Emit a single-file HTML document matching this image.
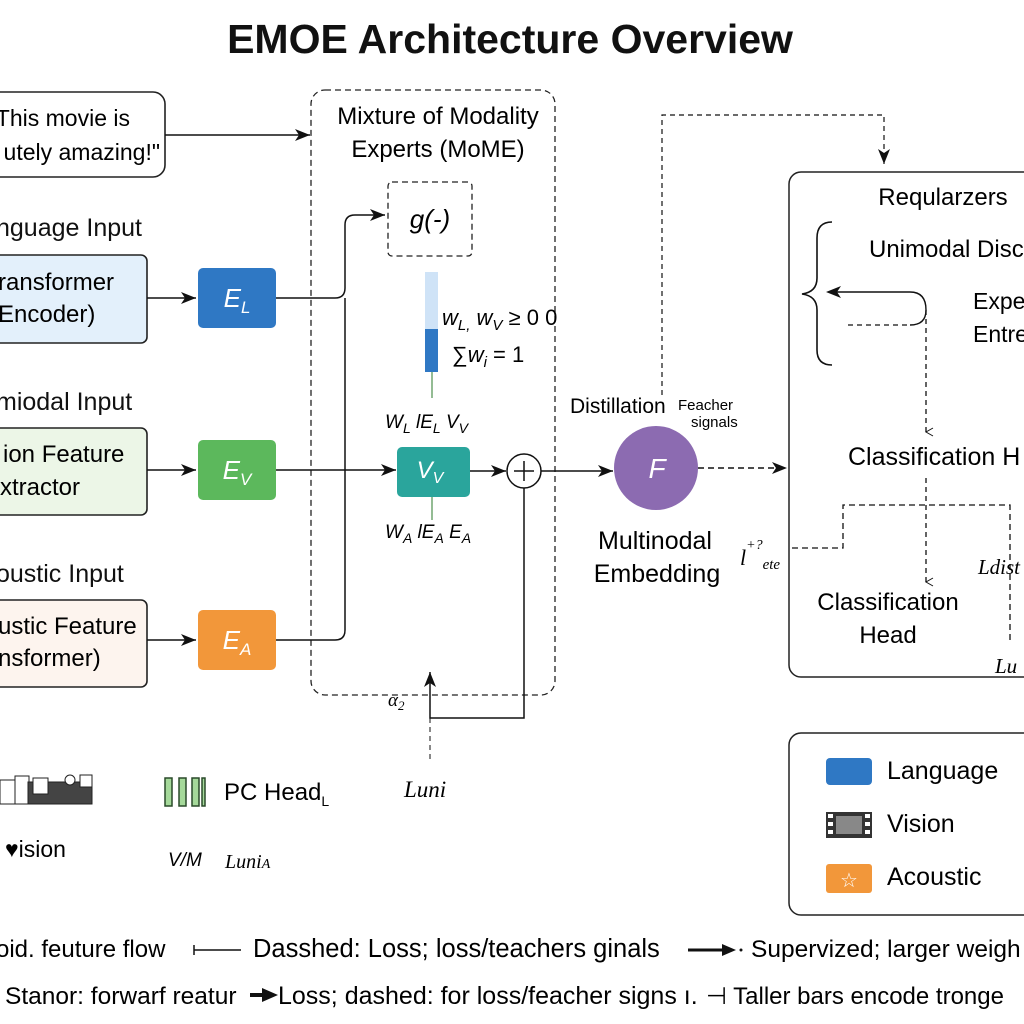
<!DOCTYPE html>
<html><head><meta charset="utf-8"><style>
html,body{margin:0;padding:0;background:#fff;}
svg{display:block;font-family:"Liberation Sans",sans-serif;}
.s{font-family:"Liberation Serif",serif;font-style:italic;}
</style></head><body>
<svg width="1024" height="1024" viewBox="0 0 1024 1024" xmlns="http://www.w3.org/2000/svg">
<defs>
<marker id="a" markerWidth="16" markerHeight="14" refX="15" refY="7" orient="auto" markerUnits="userSpaceOnUse"><path d="M0,1 L15,7 L0,13 L4,7 z" fill="#111"/></marker>
<marker id="o" markerWidth="10" markerHeight="10" refX="5" refY="9" orient="auto" markerUnits="userSpaceOnUse"><path d="M1,2 L5,9 L9,2" fill="none" stroke="#111"/></marker>
</defs>
<text x="510" y="53" text-anchor="middle" font-size="41" font-weight="bold" fill="#111">EMOE Architecture Overview</text>

<!-- quote -->
<rect x="-12" y="92" width="177" height="85" rx="12" fill="#fff" stroke="#222" stroke-width="1.6"/>
<text x="130" y="126" text-anchor="end" font-size="23">This movie is</text>
<text x="160" y="160" text-anchor="end" font-size="23">utely amazing!"</text>
<line x1="165" y1="135" x2="310" y2="135" stroke="#111" stroke-width="1.5" marker-end="url(#a)"/>

<!-- inputs -->
<g font-size="25" fill="#111">
<text x="-4" y="236">nguage Input</text>
<text x="-4" y="410">miodal Input</text>
<text x="-4" y="582">oustic Input</text>
</g>
<rect x="-12" y="255" width="159" height="88" rx="6" fill="#e3f0fb" stroke="#222" stroke-width="1.6"/>
<text x="-2" y="290" font-size="24">ransformer</text><text x="-2" y="322" font-size="24">Encoder)</text>
<rect x="-12" y="428" width="159" height="87" rx="6" fill="#ecf6e7" stroke="#222" stroke-width="1.6"/>
<text x="3" y="462" font-size="24">ion Feature</text><text x="0" y="495" font-size="24">xtractor</text>
<rect x="-12" y="600" width="159" height="87" rx="6" fill="#fdf4ee" stroke="#222" stroke-width="1.6"/>
<text x="-2" y="634" font-size="24">ustic Feature</text><text x="-2" y="666" font-size="24">nsformer)</text>

<g stroke="#111" stroke-width="1.5" fill="none">
<line x1="147" y1="298" x2="196" y2="298" marker-end="url(#a)"/>
<line x1="147" y1="470" x2="196" y2="470" marker-end="url(#a)"/>
<line x1="147" y1="640" x2="196" y2="640" marker-end="url(#a)"/>
</g>
<rect x="198" y="268" width="78" height="60" rx="5" fill="#2f78c4"/>
<text x="237" y="307" text-anchor="middle" font-size="26" fill="#fff" font-style="italic">E<tspan font-size="17" dy="6">L</tspan></text>
<rect x="198" y="440" width="78" height="60" rx="5" fill="#5cb85c"/>
<text x="237" y="479" text-anchor="middle" font-size="26" fill="#fff" font-style="italic">E<tspan font-size="17" dy="6">V</tspan></text>
<rect x="198" y="610" width="78" height="60" rx="5" fill="#f2973a"/>
<text x="237" y="649" text-anchor="middle" font-size="26" fill="#fff" font-style="italic">E<tspan font-size="17" dy="6">A</tspan></text>

<!-- MoME -->
<rect x="311" y="90" width="244" height="605" rx="14" fill="none" stroke="#222" stroke-width="1.3" stroke-dasharray="6,4"/>
<text x="438" y="124" text-anchor="middle" font-size="24">Mixture of Modality</text>
<text x="438" y="157" text-anchor="middle" font-size="24">Experts (MoME)</text>
<rect x="388" y="182" width="84" height="74" rx="4" fill="none" stroke="#222" stroke-width="1.3" stroke-dasharray="6,4"/>
<text x="430" y="228" text-anchor="middle" font-size="26" font-style="italic">g(-)</text>

<g stroke="#111" stroke-width="1.5" fill="none">
<path d="M276,298 H335 Q345,298 345,288 V225 Q345,215 355,215 H385" marker-end="url(#a)"/>
<path d="M345,298 V630 Q345,640 335,640 H276"/>
<path d="M276,470 H396" marker-end="url(#a)"/>
<line x1="470" y1="471" x2="506" y2="471" marker-end="url(#a)"/>
<line x1="541" y1="471" x2="613" y2="471" marker-end="url(#a)"/>
<path d="M524,488 V718 H430 V672" marker-end="url(#a)"/>
</g>
<circle cx="524" cy="471" r="17" fill="#fff" stroke="#111" stroke-width="1.5"/>
<path d="M524,461 V481 M514,471 H534" stroke="#111" stroke-width="1.5"/>

<rect x="425" y="272" width="13" height="57" fill="#cfe3f7"/>
<rect x="425" y="329" width="13" height="43" fill="#2f78c4"/>
<line x1="432" y1="372" x2="432" y2="398" stroke="#2a7a2a"/>
<line x1="432" y1="497" x2="432" y2="520" stroke="#2a7a2a"/>
<text x="442" y="325" font-size="22" font-style="italic">w<tspan font-size="15" dy="5">L,</tspan><tspan dy="-5"> w</tspan><tspan font-size="15" dy="5">V</tspan><tspan dy="-5" font-style="normal"> ≥ 0  0</tspan></text>
<text x="452" y="362" font-size="22">∑<tspan font-style="italic">w<tspan font-size="15" dy="5">i</tspan></tspan><tspan dy="-5"> = 1</tspan></text>
<text x="385" y="428" font-size="19" font-style="italic">W<tspan font-size="14" dy="5">L</tspan><tspan dy="-5"> lE</tspan><tspan font-size="14" dy="5">L</tspan><tspan dy="-5">  V</tspan><tspan font-size="14" dy="5">V</tspan></text>
<rect x="397" y="447" width="73" height="50" rx="5" fill="#2aa59c"/>
<text x="430" y="478" text-anchor="middle" font-size="24" fill="#fff" font-style="italic">V<tspan font-size="16" dy="5">V</tspan></text>
<text x="385" y="538" font-size="19" font-style="italic">W<tspan font-size="14" dy="5">A</tspan><tspan dy="-5"> lE</tspan><tspan font-size="14" dy="5">A</tspan><tspan dy="-5"> E</tspan><tspan font-size="14" dy="5">A</tspan></text>
<text x="388" y="706" font-size="19" class="s">α<tspan font-size="13" dy="4">2</tspan></text>
<line x1="430" y1="718" x2="430" y2="762" stroke="#111" stroke-dasharray="5,4"/>
<text x="404" y="797" font-size="23" class="s">Luni</text>

<!-- F -->
<path d="M662,395 V115 H884 V164" fill="none" stroke="#111" stroke-width="1.2" stroke-dasharray="5,4" marker-end="url(#a)"/>
<text x="570" y="413" font-size="21">Distillation</text>
<text x="678" y="410" font-size="15">Feacher</text>
<text x="691" y="427" font-size="15">signals</text>
<circle cx="656" cy="468" r="42" fill="#8c6bb1"/>
<text x="657" y="478" text-anchor="middle" font-size="28" fill="#fff" font-style="italic">F</text>
<line x1="698" y1="468" x2="787" y2="468" stroke="#111" stroke-width="1.4" stroke-dasharray="6,4" marker-end="url(#a)"/>
<text x="655" y="549" text-anchor="middle" font-size="25">Multinodal</text>
<text x="657" y="582" text-anchor="middle" font-size="25">Embedding</text>
<text x="740" y="565" font-size="22" class="s">l<tspan font-size="14" dy="-16">+?</tspan><tspan font-size="15" dy="20">ete</tspan></text>

<!-- Regularizers -->
<rect x="789" y="172" width="250" height="505" rx="12" fill="none" stroke="#222" stroke-width="1.5"/>
<text x="943" y="205" text-anchor="middle" font-size="24">Reqularzers</text>
<text x="869" y="257" font-size="24">Unimodal Disc</text>
<path d="M832,222 Q817,222 817,238 V278 Q817,292 802,294 Q817,296 817,310 V350 Q817,365 832,365" fill="none" stroke="#111" stroke-width="1.6"/>
<path d="M848,325 H910" stroke="#111" stroke-width="1.3" stroke-dasharray="5,4"/>
<path d="M910,325 Q926,325 926,310 Q926,292 910,292 H835" fill="none" stroke="#111" stroke-width="1.4"/>
<path d="M826,292 l15,-6 l-4,6 l4,6 z" fill="#111"/>
<line x1="926" y1="310" x2="926" y2="432" stroke="#111" stroke-width="1.3" stroke-dasharray="5,4" marker-end="url(#o)"/>
<text x="973" y="309" font-size="23">Expe</text>
<text x="973" y="342" font-size="23">Entre</text>
<text x="848" y="465" font-size="25">Classification H</text>
<line x1="926" y1="478" x2="926" y2="582" stroke="#111" stroke-width="1.3" stroke-dasharray="5,4" marker-end="url(#o)"/>
<path d="M792,548 H843 V505 H1010 V640" fill="none" stroke="#111" stroke-width="1.3" stroke-dasharray="6,4"/>
<text x="888" y="610" text-anchor="middle" font-size="24">Classification</text>
<text x="888" y="643" text-anchor="middle" font-size="24">Head</text>
<text x="978" y="574" font-size="21" class="s">Ldist</text>
<text x="995" y="673" font-size="21" class="s">Lu</text>

<!-- Legend -->
<rect x="789" y="733" width="250" height="182" rx="12" fill="none" stroke="#222" stroke-width="1.5"/>
<rect x="826" y="758" width="46" height="27" rx="4" fill="#2f78c4"/>
<text x="887" y="779" font-size="25">Language</text>
<rect x="826" y="812" width="46" height="26" fill="#333"/>
<rect x="836" y="816" width="26" height="18" fill="#888"/>
<g fill="#fff"><rect x="828" y="814" width="5" height="4"/><rect x="828" y="822" width="5" height="4"/><rect x="828" y="830" width="5" height="4"/><rect x="865" y="814" width="5" height="4"/><rect x="865" y="822" width="5" height="4"/><rect x="865" y="830" width="5" height="4"/></g>
<text x="887" y="832" font-size="25">Vision</text>
<rect x="826" y="864" width="46" height="29" rx="3" fill="#f2973a"/>
<text x="849" y="887" text-anchor="middle" font-size="20" fill="#fff">☆</text>
<text x="887" y="885" font-size="25">Acoustic</text>

<!-- bottom-left icons -->
<g fill="#444" stroke="#222">
<rect x="0" y="780" width="16" height="24" fill="#fff"/><rect x="15" y="776" width="14" height="28" fill="#fff"/>
<rect x="28" y="782" width="64" height="22" fill="#444"/><rect x="33" y="778" width="15" height="16" fill="#fff"/>
<circle cx="70" cy="780" r="5" fill="#fff"/><rect x="80" y="775" width="12" height="12" fill="#fff"/>
</g>
<text x="5" y="857" font-size="23">♥ision</text>
<g fill="#a5d99a" stroke="#2a4a2a" stroke-width="1.5">
<rect x="165" y="778" width="7" height="28"/><rect x="179" y="778" width="7" height="28"/><rect x="192" y="778" width="7" height="28"/><rect x="202" y="778" width="3" height="28"/>
</g>
<text x="224" y="800" font-size="24">PC Head<tspan font-size="14" dy="6">L</tspan></text>
<text x="168" y="866" font-size="19" font-style="italic">V/M</text>
<text x="225" y="868" font-size="20" class="s">Luni<tspan font-size="14">A</tspan></text>

<!-- bottom text -->
<text x="-4" y="957" font-size="24">oid. feuture flow</text>
<line x1="194" y1="950" x2="241" y2="950" stroke="#111" stroke-width="1.5"/><line x1="194" y1="945" x2="194" y2="955" stroke="#111" stroke-width="1.5"/>
<text x="253" y="957" font-size="25.5">Dasshed: Loss; loss/teachers ginals</text>
<line x1="688" y1="950" x2="728" y2="950" stroke="#111" stroke-width="3"/><path d="M722,944 L736,950 L722,956 z" fill="#111"/><circle cx="741" cy="950" r="1.5" fill="#111"/>
<text x="751" y="957" font-size="24.5">Supervized; larger weigh</text>
<text x="5" y="1004" font-size="24.5">Stanor: forwarf reatur</text>
<line x1="250" y1="995" x2="266" y2="995" stroke="#111" stroke-width="4"/><path d="M262,988 L278,995 L262,1002 z" fill="#111"/>
<text x="278" y="1004" font-size="25">Loss; dashed: for loss/feacher signs ı.</text>
<text x="706" y="1004" font-size="24">⊣ Taller bars encode tronge</text>
</svg>
</body></html>
